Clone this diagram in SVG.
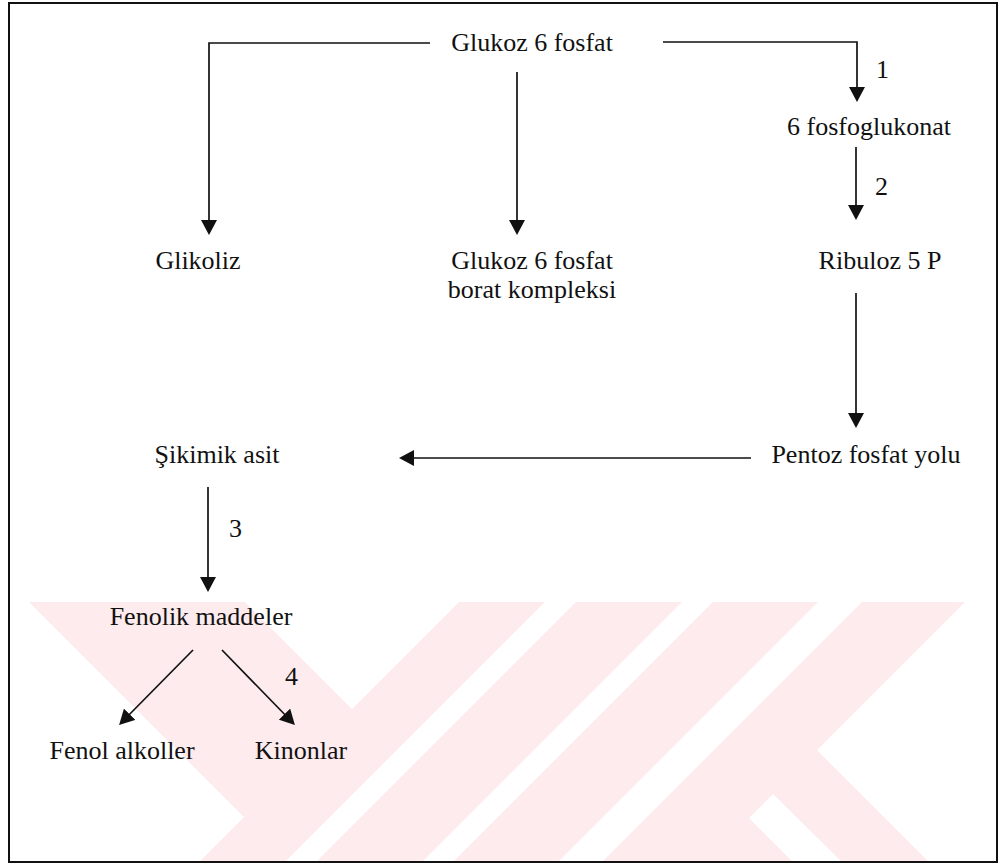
<svg xmlns="http://www.w3.org/2000/svg" width="1000" height="865" viewBox="0 0 1000 865">
  <style>
    .t { font-family: "Liberation Serif", "Times New Roman", serif; font-size: 26px; fill: #111; }
    .c { text-anchor: middle; }
    .ln { fill: none; stroke: #111; stroke-width: 1.7; }
    .wm { fill: #fdebee; stroke: none; }
  </style>
  <defs>
    <marker id="ah" viewBox="0 0 15 16" refX="13" refY="8" markerWidth="15" markerHeight="16" markerUnits="userSpaceOnUse" orient="auto">
      <path d="M0,0 L15,8 L0,16 Z" fill="#111"/>
    </marker>
  </defs>
  <rect x="0" y="0" width="1000" height="865" fill="#fff"/>

  <g id="watermark">
    <polygon class="wm" points="29,602 245,602 352,709 459,602 545,602 285,862 199,862 244,817"/>
    <polygon class="wm" points="576,602 682,602 422,862 316,862"/>
    <polygon class="wm" points="713,602 818,602 558,862 453,862"/>
    <polygon class="wm" points="862,602 965,602 817,750 929,862 842,862 773,794 749,818 793,862 602,862"/>
  </g>

  <rect id="frame" x="9" y="3" width="988" height="859" fill="none" stroke="#111" stroke-width="2"/>

  <g id="connectors">
    <polyline class="ln" points="430,43 209,43 209,233" marker-end="url(#ah)"/>
    <line class="ln" x1="517" y1="72" x2="517" y2="233" marker-end="url(#ah)"/>
    <polyline class="ln" points="663,42 857,42 857,100" marker-end="url(#ah)"/>
    <line class="ln" x1="856" y1="147" x2="856" y2="218" marker-end="url(#ah)"/>
    <line class="ln" x1="856" y1="293" x2="856" y2="426" marker-end="url(#ah)"/>
    <line class="ln" x1="751" y1="458" x2="401" y2="458" marker-end="url(#ah)"/>
    <line class="ln" x1="208" y1="487" x2="208" y2="590" marker-end="url(#ah)"/>
    <line class="ln" x1="193" y1="650" x2="120.5" y2="723.5" marker-end="url(#ah)"/>
    <line class="ln" x1="222" y1="650" x2="293.5" y2="723.5" marker-end="url(#ah)"/>
    <text class="t" x="876" y="78">1</text>
    <text class="t" x="875" y="195">2</text>
    <text class="t" x="229" y="537">3</text>
    <text class="t" x="285" y="685">4</text>
  </g>

  <g id="n-glukoz6fosfat"><text class="t c" x="532" y="51">Glukoz 6 fosfat</text></g>
  <g id="n-6fosfoglukonat"><text class="t c" x="869" y="135">6 fosfoglukonat</text></g>
  <g id="n-glikoliz"><text class="t c" x="198" y="269">Glikoliz</text></g>
  <g id="n-borat"><text class="t c" x="532" y="269">Glukoz 6 fosfat</text><text class="t c" x="532" y="298">borat kompleksi</text></g>
  <g id="n-ribuloz"><text class="t c" x="880" y="269">Ribuloz 5 P</text></g>
  <g id="n-pentoz"><text class="t c" x="866" y="463">Pentoz fosfat yolu</text></g>
  <g id="n-sikimik"><text class="t c" x="217" y="463">Şikimik asit</text></g>
  <g id="n-fenolik"><text class="t c" x="201" y="625">Fenolik maddeler</text></g>
  <g id="n-fenolalkoller"><text class="t c" x="122" y="759">Fenol alkoller</text></g>
  <g id="n-kinonlar"><text class="t c" x="301" y="759">Kinonlar</text></g>
</svg>
